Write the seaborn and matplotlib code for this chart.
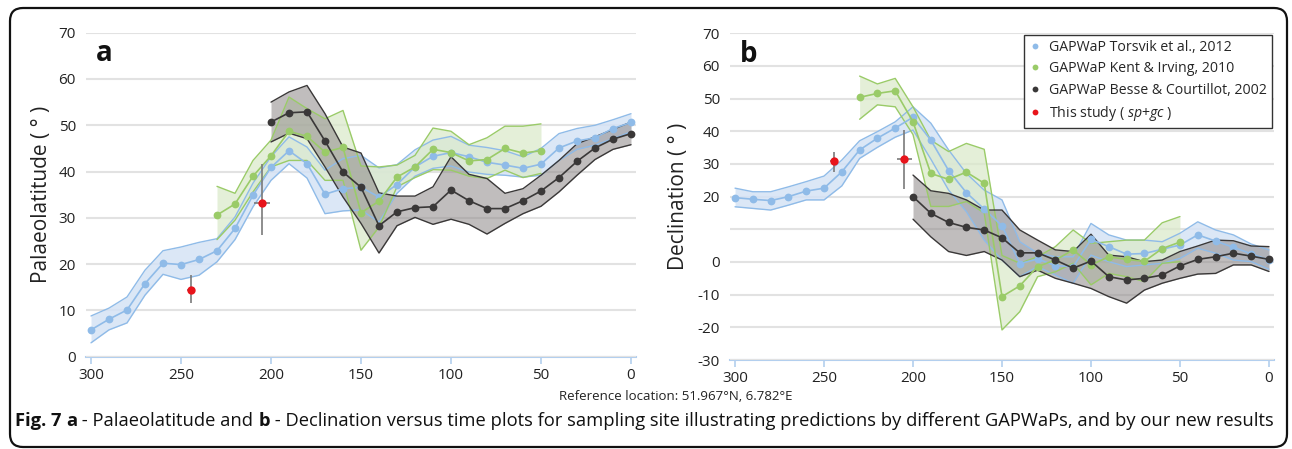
import matplotlib
matplotlib.use("Agg")
import matplotlib.pyplot as plt
import seaborn as sns
import numpy as np
from matplotlib import font_manager
from matplotlib.patches import FancyBboxPatch
from matplotlib.lines import Line2D

# ---------------- data ----------------
ages_torsvik = [300, 290, 280, 270, 260, 250, 240, 230, 220, 210, 200, 190, 180, 170, 160,
                150, 140, 130, 120, 110, 100, 90, 80, 70, 60, 50, 40, 30, 20, 10, 0]
ages_kent = [230, 220, 210, 200, 190, 180, 170, 160, 150, 140, 130, 120, 110, 100, 90, 80, 70, 60, 50]
ages_besse = [200, 190, 180, 170, 160, 150, 140, 130, 120, 110, 100, 90, 80, 70, 60, 50, 40, 30, 20, 10, 0]

torsvik_lat = [5.8, 8.1, 10.1, 15.8, 20.2, 19.9, 21.0, 22.9, 27.7, 34.9, 40.9, 44.5, 41.7, 35.1, 36.3,
               36.6, 34.5, 37.2, 41.0, 43.3, 44.1, 43.2, 42.0, 41.4, 40.7, 41.6, 45.1, 46.6, 47.3, 49.3, 50.6]
torsvik_lat_hi = [8.8, 10.5, 12.9, 18.7, 22.9, 23.7, 24.7, 25.5, 30.2, 37.5, 43.2, 47.5, 45.3, 40.3, 42.8,
                  43.5, 40.8, 41.5, 44.7, 46.8, 47.6, 45.7, 45.2, 44.5, 43.2, 45.0, 48.2, 49.3, 50.0, 51.2, 52.5]
torsvik_lat_lo = [3.0, 5.8, 7.3, 13.3, 17.8, 16.7, 17.6, 20.5, 25.3, 32.4, 38.1, 41.7, 38.6, 30.9, 31.5,
                  31.7, 29.1, 35.3, 39.0, 40.7, 41.2, 39.9, 39.4, 39.2, 38.8, 39.2, 42.4, 44.8, 45.7, 47.1, 48.6]

kent_lat = [30.6, 33.0, 39.0, 43.4, 48.7, 47.6, 44.2, 45.2, 31.1, 33.6, 38.8, 41.0, 44.8, 44.1, 42.3, 42.6, 45.0, 44.0, 44.5]
kent_lat_hi = [36.8, 35.3, 42.4, 46.8, 56.1, 53.6, 51.4, 53.2, 41.2, 41.0, 41.4, 43.5, 49.4, 48.7, 45.8, 47.3, 49.8, 49.8, 50.3]
kent_lat_lo = [25.3, 29.5, 35.6, 41.0, 42.4, 42.4, 38.1, 38.1, 23.0, 28.0, 36.7, 38.7, 40.4, 40.3, 39.0, 38.5, 40.3, 38.7, 39.6]

besse_lat = [50.7, 52.7, 52.9, 46.6, 39.9, 36.6, 28.3, 31.3, 32.2, 32.4, 36.0, 33.7, 32.0, 32.0, 33.7, 35.8,
             38.7, 42.2, 45.1, 47.0, 48.2]
besse_lat_hi = [55.0, 57.2, 58.6, 52.5, 45.3, 44.0, 35.4, 34.7, 34.7, 36.7, 43.2, 39.4, 38.5, 35.3, 36.3, 39.2,
                42.4, 46.0, 47.5, 49.1, 50.7]
besse_lat_lo = [46.4, 48.3, 47.1, 41.0, 34.5, 28.8, 22.4, 28.3, 30.1, 28.6, 29.7, 28.6, 26.5, 28.8, 30.9, 32.5,
                35.6, 39.2, 42.6, 44.8, 45.8]

torsvik_dec = [19.7, 19.2, 18.8, 20.0, 21.7, 22.6, 27.6, 34.3, 37.9, 41.0, 44.3, 37.3, 28.0, 21.2, 16.2,
               11.1, -0.5, 0.9, -1.1, -1.4, 6.9, 4.7, 2.4, 2.6, 3.9, 5.2, 8.3, 6.4, 4.5, 2.5, 0.6]
torsvik_dec_hi = [22.6, 21.5, 21.5, 23.0, 24.6, 26.3, 31.2, 37.1, 39.9, 42.9, 47.5, 42.5, 34.3, 27.1, 22.0,
                  19.0, 6.2, 2.7, 1.6, 1.6, 11.8, 8.3, 6.7, 6.7, 6.2, 8.8, 12.3, 9.8, 8.3, 5.5, 3.7]
torsvik_dec_lo = [16.9, 16.4, 15.9, 17.4, 19.0, 19.0, 23.3, 31.7, 35.1, 38.2, 40.4, 31.5, 22.0, 15.4, 6.7,
                  0.6, -4.5, -1.4, -4.0, -6.5, 2.1, 0.1, -1.4, -0.9, -0.4, 1.1, 4.2, 2.7, 0.6, 0.1, -2.2]

kent_dec = [50.4, 51.6, 52.4, 42.9, 27.1, 25.3, 27.5, 24.1, -10.6, -7.3, -1.4, 0.6, 3.7, -0.9, 1.6, 0.8, 0.2, 4.1, 6.1]
kent_dec_hi = [56.9, 54.5, 56.2, 47.5, 37.3, 33.8, 36.3, 34.5, 2.0, -0.4, 1.6, 4.7, 9.8, 5.7, 6.2, 6.7, 6.7, 12.0, 13.9]
kent_dec_lo = [43.7, 48.1, 47.5, 39.0, 17.0, 17.0, 18.5, 15.0, -20.8, -15.2, -4.5, -3.0, -0.4, -7.0, -3.5, -4.5, -6.0, -0.4, 0.1]

besse_dec = [20.0, 14.9, 12.1, 10.6, 9.8, 7.4, 2.8, 2.8, 0.6, -1.9, 0.3, -4.5, -5.5, -5.0, -4.0, -1.2,
             0.8, 1.6, 2.7, 1.8, 0.8]
besse_dec_hi = [26.6, 21.8, 21.0, 19.0, 15.9, 15.9, 9.8, 6.7, 3.7, 3.2, 8.5, 2.1, 1.6, 0.1, 0.6, 3.2,
                4.9, 6.7, 6.5, 4.9, 4.7]
besse_dec_lo = [13.1, 7.7, 3.2, 2.0, 3.2, 0.6, -4.5, -2.5, -5.0, -6.5, -8.1, -10.6, -12.6, -8.6, -6.5, -5.0,
                -3.7, -3.5, -0.9, -0.9, -2.9]

study_age = [244.5, 205.0]
study_age_err = [2.0, 4.2]
study_lat = [14.5, 33.3]
study_lat_err_lo = [2.9, 6.9]
study_lat_err_hi = [3.1, 8.4]
study_dec = [30.9, 31.4]
study_dec_err_lo = [3.3, 9.1]
study_dec_err_hi = [2.9, 9.0]

labels = ["GAPWaP Torsvik et al., 2012", "GAPWaP Kent & Irving, 2010",
          "GAPWaP Besse & Courtillot, 2002", r"This study ( $\mathit{sp{+}gc}$ )"]
x_ticks = [300, 250, 200, 150, 100, 50, 0]
lat_ticks = [0, 10, 20, 30, 40, 50, 60, 70]
dec_ticks = [-30, -20, -10, 0, 10, 20, 30, 40, 50, 60, 70]
dec_ticklabels = ["-30", "-20", "-10", "0", "", "20", "30", "40", "50", "60", "70"]

# ---------------- style ----------------
sns.set_theme(style="white")


def have(name):
    try:
        font_manager.findfont(name, fallback_to_default=False)
        return True
    except Exception:
        return False


MAIN = "Open Sans" if have("Open Sans") else "DejaVu Sans"
NARROW = "Liberation Sans Narrow" if have("Liberation Sans Narrow") else MAIN
plt.rcParams["font.family"] = [MAIN, "DejaVu Sans"]
plt.rcParams["mathtext.fontset"] = "custom"
plt.rcParams["mathtext.it"] = MAIN + ":italic"
plt.rcParams["mathtext.rm"] = MAIN

BLUE = "#8fbbe8"
BLUE_FILL = "#d5e3f5"
GREEN = "#9acb68"
GREEN_FILL = "#dbeacb"
BLACK = "#3a3838"
GREY_FILL = "#8d8888"
RED = "#e8141b"
SPINE = "#b3cfee"
GRID = "#e2e2e2"

W, H = 1292, 449
fig = plt.figure(figsize=(W / 100, H / 100), dpi=100)
fig.patch.set_facecolor("white")

axa = fig.add_axes([85.6 / W, 1 - 356.7 / H, (636.4 - 85.6) / W, (356.7 - 32.7) / H])
axb = fig.add_axes([729.7 / W, 1 - 360.0 / H, 544.6 / W, (360.0 - 33.3) / H])


def draw_panel(ax, series, study_y, err_lo, err_hi):
    for ages, mid, hi, lo, col, fill, alpha in series:
        ax.fill_between(ages, lo, hi, color=fill, alpha=alpha, linewidth=0, zorder=1)
    for ages, mid, hi, lo, col, fill, alpha in series:
        sns.lineplot(x=ages, y=hi, ax=ax, color=col, linewidth=1.0, legend=False, zorder=2)
        sns.lineplot(x=ages, y=lo, ax=ax, color=col, linewidth=1.0, legend=False, zorder=2)
    for ages, mid, hi, lo, col, fill, alpha in series:
        sns.lineplot(x=ages, y=mid, ax=ax, color=col, linewidth=1.2, marker="o",
                     markersize=5.6, markeredgewidth=0, legend=False, zorder=3)
    ax.errorbar(study_age, study_y, yerr=[err_lo, err_hi], xerr=study_age_err, fmt="none",
                ecolor="#7a7a7a", elinewidth=1.2, capsize=0, zorder=4)
    sns.scatterplot(x=study_age, y=study_y, ax=ax, color=RED, s=36, linewidth=0, zorder=5, legend=False)

    ax.set_xlim(303, -3)
    ax.set_xticks(x_ticks)
    ax.set_xticklabels([str(t) for t in x_ticks])
    for s in ["top", "right", "left"]:
        ax.spines[s].set_visible(False)
    ax.spines["bottom"].set_color(SPINE)
    ax.spines["bottom"].set_linewidth(1.5)
    ax.spines["bottom"].set_zorder(0.5)
    ax.yaxis.grid(True, color=GRID, linewidth=1.5, zorder=0)
    ax.xaxis.grid(False)
    ax.set_axisbelow(True)
    ax.tick_params(axis="x", direction="out", length=5, width=1.2, color=SPINE, pad=3,
                   labelsize=11, labelcolor="#222222", bottom=True)
    ax.tick_params(axis="y", length=0, pad=7, labelsize=11, labelcolor="#222222")
    ax.set_xlabel("")


draw_panel(axa, [
    (ages_torsvik, torsvik_lat, torsvik_lat_hi, torsvik_lat_lo, BLUE, BLUE_FILL, 0.85),
    (ages_kent, kent_lat, kent_lat_hi, kent_lat_lo, GREEN, GREEN_FILL, 0.75),
    (ages_besse, besse_lat, besse_lat_hi, besse_lat_lo, BLACK, GREY_FILL, 0.55),
], study_lat, study_lat_err_lo, study_lat_err_hi)
axa.set_ylim(0, 70)
axa.set_yticks(lat_ticks)
axa.set_yticklabels([str(t) for t in lat_ticks])
axa.set_ylabel("Palaeolatitude ( ° )", fontsize=15, color="#222222", labelpad=5)
axa.text(0.018, 0.935, "a", transform=axa.transAxes, fontsize=20, fontweight="bold",
         ha="left", va="center", color="#111111")

draw_panel(axb, [
    (ages_torsvik, torsvik_dec, torsvik_dec_hi, torsvik_dec_lo, BLUE, BLUE_FILL, 0.85),
    (ages_kent, kent_dec, kent_dec_hi, kent_dec_lo, GREEN, GREEN_FILL, 0.75),
    (ages_besse, besse_dec, besse_dec_hi, besse_dec_lo, BLACK, GREY_FILL, 0.55),
], study_dec, study_dec_err_lo, study_dec_err_hi)
axb.set_ylim(-30, 70)
axb.set_yticks(dec_ticks)
axb.set_yticklabels(dec_ticklabels)
axb.set_ylabel("Declination ( ° )", fontsize=15, color="#222222", labelpad=6)
axb.text(0.018, 0.935, "b", transform=axb.transAxes, fontsize=20, fontweight="bold",
         ha="left", va="center", color="#111111")

handles = [Line2D([], [], linestyle="none", marker="o", markersize=4.2, markeredgewidth=0, color=c)
           for c in [BLUE, GREEN, BLACK, RED]]
leg = axb.legend(handles, labels, loc="upper right", bbox_to_anchor=(0.996, 0.995),
                 fontsize=10.2, frameon=True, fancybox=False, framealpha=1, edgecolor="#333333",
                 handlelength=0.8, handletextpad=0.6, labelspacing=0.45, borderpad=0.35,
                 borderaxespad=0)
leg.get_frame().set_linewidth(1.0)
leg.set_zorder(10)

fig.text(676 / W, 1 - 396 / H, "Reference location: 51.967°N, 6.782°E", ha="center", va="center",
         fontsize=9.5, family=[NARROW, "DejaVu Sans"], color="#222222")

renderer = fig.canvas.get_renderer()
pieces = [("Fig. 7 ", "bold"), ("a", "bold"), (" - Palaeolatitude and ", "normal"), ("b", "bold"),
          (" - Declination versus time plots for sampling site illustrating predictions by different GAPWaPs, and by our new results", "normal")]


def place_caption(fs):
    arts = []
    x = 15.0
    for txt, wt in pieces:
        t = fig.text(x / W, 1 - 421 / H, txt, ha="left", va="center", fontsize=fs, fontweight=wt,
                     family=[NARROW, "DejaVu Sans"], color="#111111")
        bb = t.get_window_extent(renderer=renderer)
        x += bb.width
        arts.append(t)
    return arts, x


arts, xend = place_caption(15)
scale = (1278.0 - 15.0) / (xend - 15.0)
for a in arts:
    a.remove()
place_caption(15 * scale)

border = FancyBboxPatch((10 / 100, 2 / 100), (1287 - 10) / 100, (441 - 2) / 100,
                        boxstyle="round,pad=0,rounding_size=0.13", transform=fig.dpi_scale_trans,
                        facecolor="none", edgecolor="#111111", linewidth=1.6, zorder=-1)
fig.patches.append(border)

fig.savefig("out.png", dpi=100, facecolor="white")
